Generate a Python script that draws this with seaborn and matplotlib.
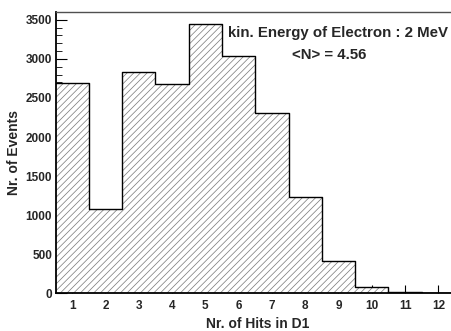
import matplotlib
matplotlib.use("Agg")
import matplotlib.pyplot as plt
import pandas as pd
import seaborn as sns
from matplotlib.ticker import MultipleLocator

# Hit multiplicity in detector D1 for 2 MeV electrons
hits = [1, 2, 3, 4, 5, 6, 7, 8, 9, 10, 11, 12]
events = [2690, 1073, 2830, 2675, 3444, 3038, 2312, 1231, 410, 86, 13, 0]
x_ticks = [1, 2, 3, 4, 5, 6, 7, 8, 9, 10, 11, 12]
energy_text = "kin. Energy of Electron : 2 MeV"
mean_text = "<N> = 4.56"
x_title = "Nr. of Hits in D1"
y_title = "Nr. of Events"

sns.set_style("ticks")
plt.rcParams["font.family"] = ["Liberation Sans", "DejaVu Sans"]
plt.rcParams["font.weight"] = "bold"
plt.rcParams["hatch.linewidth"] = 0.5

df = pd.DataFrame({"hits": hits, "events": events})

W, H = 451, 331
fig = plt.figure(figsize=(W / 100, H / 100), dpi=100)
x0, x1 = 55.5, 455.0
y_top, y_bot = 12.0, 293.3
ax = fig.add_axes([x0 / W, 1 - y_bot / H, (x1 - x0) / W, (y_bot - y_top) / H])

# hatched body of the histogram
sns.histplot(data=df, x="hits", weights="events", discrete=True,
             element="step", fill=True, facecolor="white",
             edgecolor="#777777", linewidth=0, hatch="/////", alpha=1, ax=ax)
# outline
sns.histplot(data=df, x="hits", weights="events", discrete=True,
             element="step", fill=False, color="black", linewidth=1.0, ax=ax)

ax.set_xlim(0.5, 12.5)
ax.set_ylim(0, 3600)
ax.set_xticks(x_ticks)
ax.set_xticklabels([str(t) for t in x_ticks])
ax.yaxis.set_major_locator(MultipleLocator(500))
ax.yaxis.set_minor_locator(MultipleLocator(100))

ax.tick_params(axis="x", which="major", direction="in", length=6, width=0.8,
               pad=5, labelsize=8.5, color="black")
ax.tick_params(axis="x", which="minor", bottom=False)
ax.tick_params(axis="y", which="major", direction="in", length=8, width=0.8,
               pad=2.5, labelsize=8.5, color="black")
ax.tick_params(axis="y", which="minor", direction="in", length=4.5, width=0.6,
               color="black")

for side in ("left", "bottom"):
    ax.spines[side].set_color("black")
    ax.spines[side].set_linewidth(1.3)
ax.spines["top"].set_color("#505050")
ax.spines["top"].set_linewidth(1.0)
ax.spines["right"].set_visible(False)

ax.set_xlabel(x_title, fontsize=10, fontweight="bold")
ax.set_ylabel(y_title, fontsize=10, fontweight="bold")
ax.xaxis.set_label_coords((258 - x0) / (x1 - x0), (y_bot - 317) / (y_bot - y_top))
ax.yaxis.set_label_coords((21 - x0) / (x1 - x0), 0.5)

fig.text(337.5 / W, 1 - 37.5 / H, energy_text, ha="center", va="baseline",
         fontsize=10.8, fontweight="bold")
fig.text(329.5 / W, 1 - 58.7 / H, mean_text, ha="center", va="baseline",
         fontsize=10.8, fontweight="bold")

fig.savefig("out.png", dpi=100)
